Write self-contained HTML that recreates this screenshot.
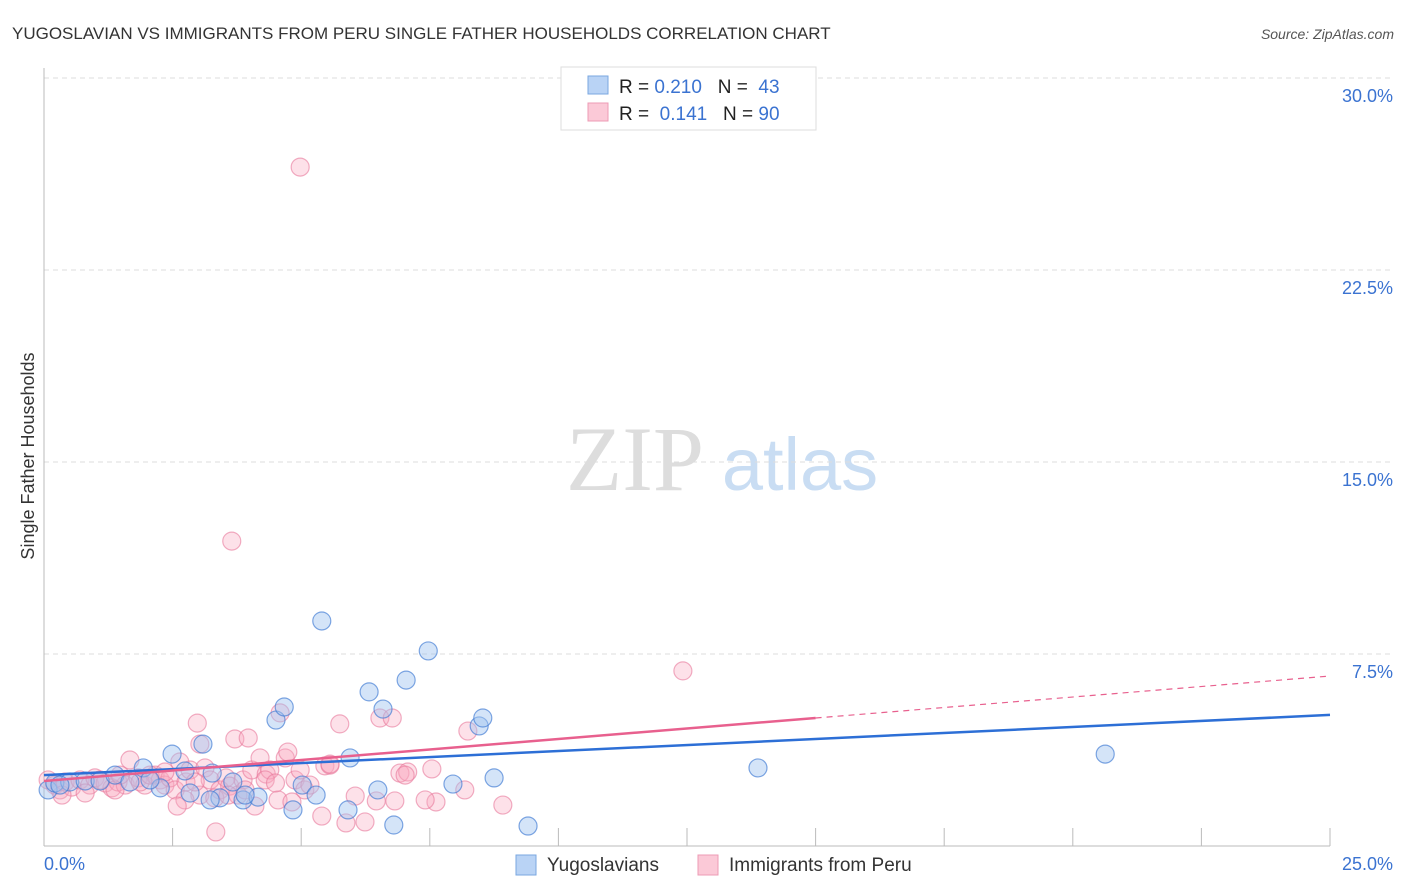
<!DOCTYPE html>
<html><head><meta charset="utf-8"><style>
body{margin:0;background:#fff;font-family:"Liberation Sans",sans-serif;}
svg{display:block}
</style></head><body>
<svg id="chart" width="1406" height="892" xmlns="http://www.w3.org/2000/svg">
<text x="12" y="39" font-size="17" fill="#333">YUGOSLAVIAN VS IMMIGRANTS FROM PERU SINGLE FATHER HOUSEHOLDS CORRELATION CHART</text>
<text x="1394" y="39" font-size="14" fill="#555" font-style="italic" text-anchor="end">Source: ZipAtlas.com</text>
<g>
<text x="635" y="490" font-size="92" font-family="Liberation Serif,serif" fill="#ddd" text-anchor="middle">ZIP</text>
<text x="800" y="490" font-size="74" fill="#c9ddf3" text-anchor="middle">atlas</text>
</g>
<g id="grid"></g>
<g id="axes"></g>
<g id="points"></g>
<g id="trends"></g>
<text transform="translate(34,456) rotate(-90)" font-size="18" fill="#333" text-anchor="middle">Single Father Households</text>
<g>
<rect x="561" y="67" width="255" height="63" fill="#fff" stroke="#ddd"/>
<rect x="588" y="76" width="20" height="18" fill="#b9d3f5" stroke="#7aa7e0"/>
<rect x="588" y="103" width="20" height="18" fill="#fbc9d7" stroke="#ee9bb4"/>
<text x="619" y="93" font-size="19" fill="#222">R = <tspan fill="#3b73d1">0.210</tspan>&#160;&#160;&#160;N = <tspan fill="#3b73d1">&#160;43</tspan></text>
<text x="619" y="120" font-size="19" fill="#222">R = &#160;<tspan fill="#3b73d1">0.141</tspan>&#160;&#160;&#160;N = <tspan fill="#3b73d1">90</tspan></text>
</g>
<g>
<rect x="516" y="855" width="20" height="20" fill="#b9d3f5" stroke="#7aa7e0"/>
<text x="547" y="871" font-size="19" fill="#333">Yugoslavians</text>
<rect x="698" y="855" width="20" height="20" fill="#fbc9d7" stroke="#ee9bb4"/>
<text x="729" y="871" font-size="19" fill="#333">Immigrants from Peru</text>
</g>
</svg>
<script>
const yTicks=[7.5,15,22.5,30];
const yTickLabels=["7.5%","15.0%","22.5%","30.0%"];
const xTickVals=[2.5,5,7.5,10,12.5,15,17.5,20,22.5,25];
const xEndLabels=["0.0%","25.0%"];
const blueX=[0.08,0.21,0.5,0.8,1.09,1.38,1.67,1.93,2.26,2.49,2.74,2.84,3.09,3.27,3.42,3.67,3.87,4.16,4.51,4.67,4.84,5.02,5.29,5.4,5.91,5.95,6.32,6.49,6.59,6.8,7.04,7.47,7.95,8.46,8.53,8.75,9.41,13.88,20.63,0.31,2.06,3.91,3.23];
const blueY=[2.19,2.46,2.5,2.54,2.54,2.77,2.5,3.05,2.27,3.59,2.93,2.07,3.98,2.85,1.88,2.5,1.8,1.91,4.92,5.43,1.41,2.38,1.99,8.79,1.41,3.44,6.02,2.19,5.35,0.82,6.48,7.62,2.42,4.69,5.0,2.66,0.78,3.05,3.59,2.38,2.58,1.99,1.8];
const pinkX=[4.98,3.65,12.42,0.08,0.21,0.31,0.41,0.54,0.7,0.89,0.99,1.19,1.32,1.44,1.58,1.67,1.83,1.96,2.16,2.26,2.35,2.45,2.55,2.64,2.76,2.84,2.98,3.03,3.13,3.23,3.34,3.42,3.54,3.61,3.71,3.77,3.87,3.97,4.04,4.1,4.2,4.32,4.39,4.55,4.59,4.69,4.74,4.82,4.88,4.98,5.07,5.4,5.46,5.56,5.75,5.87,6.05,6.24,6.46,6.53,6.82,6.92,7.07,7.54,7.62,8.18,8.24,8.92,1.87,2.06,2.74,2.59,3.03,3.32,3.58,3.91,4.3,4.5,5.17,5.56,6.77,7.02,7.41,1.38,1.09,0.8,0.35,1.48,2.35,2.94];
const pinkY=[26.52,11.91,6.84,2.58,2.38,2.19,2.5,2.3,2.58,2.38,2.66,2.46,2.27,2.5,2.38,3.36,2.66,2.38,2.77,2.58,2.38,2.66,2.19,3.28,2.5,2.97,4.8,1.99,3.05,2.58,0.55,2.19,2.66,2.34,4.18,1.99,2.58,4.22,2.97,1.56,3.44,2.81,2.97,1.8,5.2,3.44,3.67,1.72,2.58,2.97,2.19,1.17,3.13,3.16,4.77,0.9,1.95,0.94,1.76,5.0,1.76,2.85,2.89,3.01,1.72,2.19,4.49,1.6,2.5,2.77,1.8,1.56,3.98,1.88,1.99,2.19,2.58,2.46,2.38,3.2,5.0,2.77,1.8,2.19,2.58,2.07,1.99,2.77,2.89,2.5];
const blueTrend=[2.77,0.094];
const pinkTrend=[2.54,0.164];
const pinkSolidEnd=15;
const NS="http://www.w3.org/2000/svg";
const X0=44,X1=1330,Y0=846,YTOP=78;
const xs=v=>X0+v*(X1-X0)/25;
const ys=v=>Y0-v*(Y0-YTOP)/30;
function mk(tag,attrs,parent){const e=document.createElementNS(NS,tag);for(const k in attrs)e.setAttribute(k,attrs[k]);parent.appendChild(e);return e;}
const grid=document.getElementById('grid'),axes=document.getElementById('axes'),pts=document.getElementById('points'),tr=document.getElementById('trends');
yTicks.forEach((t,i)=>{
 const l=mk('line',{x1:X0,x2:1394,y1:ys(t),y2:ys(t),stroke:'#ddd','stroke-dasharray':'5,4'},grid);
 
 
 const tx=mk('text',{x:1393,y:ys(t)+24,'font-size':18,fill:'#3b73d1','text-anchor':'end'},axes);
 tx.textContent=yTickLabels[i];
 
 
});
const ya=mk('line',{x1:X0,x2:X0,y1:68,y2:Y0,stroke:'#bbb'},axes);


const xa=mk('line',{x1:X0,x2:X1,y1:Y0,y2:Y0,stroke:'#bbb'},axes);


xTickVals.forEach(t=>{
 const l=mk('line',{x1:xs(t),x2:xs(t),y1:Y0-18,y2:Y0,stroke:'#bbb'},axes);
 
 
});
const xl0=mk('text',{x:44,y:870,'font-size':18,fill:'#3b73d1'},axes);
xl0.textContent=xEndLabels[0];


const xl1=mk('text',{x:1393,y:870,'font-size':18,fill:'#3b73d1','text-anchor':'end'},axes);
xl1.textContent=xEndLabels[1];


pinkX.forEach((v,i)=>{
 const c=mk('circle',{cx:xs(v),cy:ys(pinkY[i]),r:9,fill:'rgba(248,170,192,0.35)',stroke:'rgba(232,120,155,0.6)','stroke-width':1.2},pts);
 
 
});
blueX.forEach((v,i)=>{
 const c=mk('circle',{cx:xs(v),cy:ys(blueY[i]),r:9,fill:'rgba(160,196,240,0.45)',stroke:'rgba(60,120,210,0.65)','stroke-width':1.2},pts);
 
 
});
const bl=mk('line',{x1:xs(0),y1:ys(blueTrend[0]),x2:xs(25),y2:ys(blueTrend[0]+25*blueTrend[1]),stroke:'#2d6fd6','stroke-width':2.5},tr);


const pl=mk('line',{x1:xs(0),y1:ys(pinkTrend[0]),x2:xs(pinkSolidEnd),y2:ys(pinkTrend[0]+pinkSolidEnd*pinkTrend[1]),stroke:'#e8608e','stroke-width':2.5},tr);


const pd=mk('line',{x1:xs(pinkSolidEnd),y1:ys(pinkTrend[0]+pinkSolidEnd*pinkTrend[1]),x2:xs(25),y2:ys(pinkTrend[0]+25*pinkTrend[1]),stroke:'#e8608e','stroke-width':1.2,'stroke-dasharray':'6,5'},tr);


</script>
</body></html>
